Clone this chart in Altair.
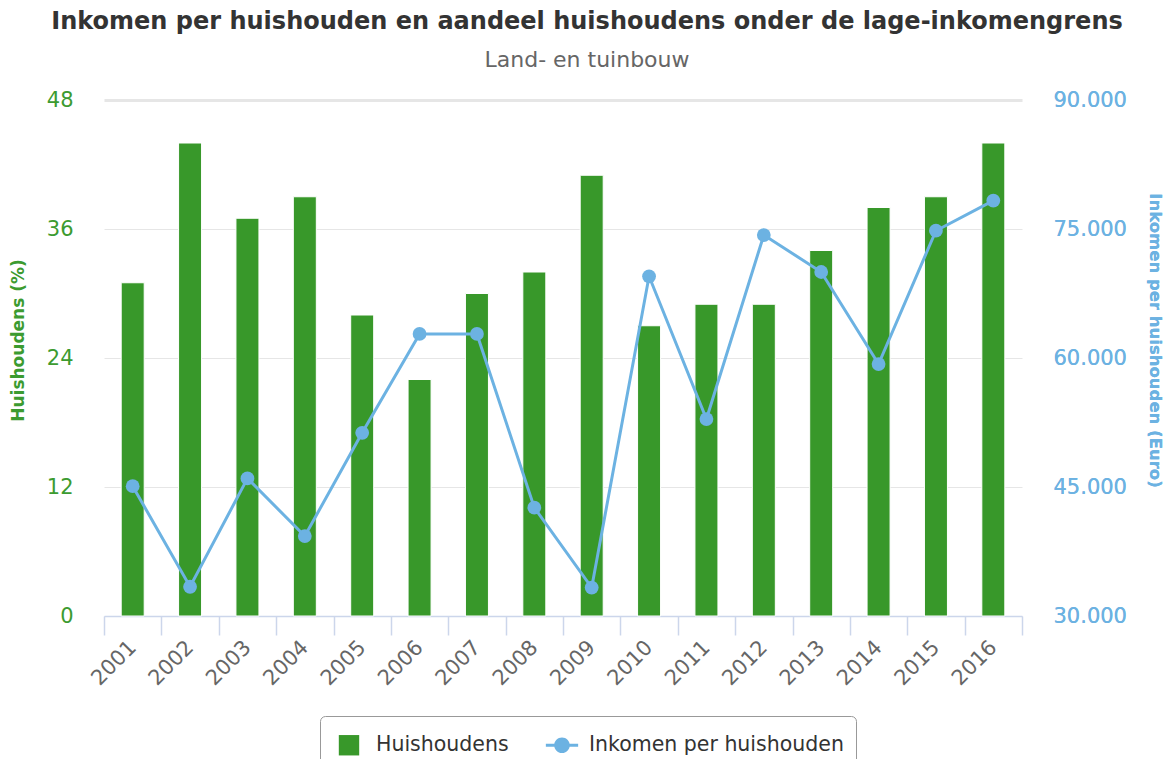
import altair as alt
import pandas as pd

years = ["2001", "2002", "2003", "2004", "2005", "2006", "2007", "2008",
         "2009", "2010", "2011", "2012", "2013", "2014", "2015", "2016"]
huishoudens = [31, 44, 37, 39, 28, 22, 30, 32, 41, 27, 29, 29, 34, 38, 39, 44]
inkomen = [45100, 33400, 46000, 39300, 51300, 62800, 62800, 42600,
           33300, 69500, 52900, 74300, 70000, 59300, 74800, 78300]
series_names = ["Huishoudens", "Inkomen per huishouden"]
left_ticks = [0, 12, 24, 36, 48]
right_ticks = [30000, 45000, 60000, 75000, 90000]

GREEN = "#38982a"
BLUE = "#6cb2e2"
FONT = "DejaVu Sans"

df = pd.DataFrame({"jaar": years, "huishoudens": huishoudens, "inkomen": inkomen})
legend_df = pd.DataFrame({"serie": series_names})

x_enc = alt.X(
    "jaar:N",
    title=None,
    sort=years,
    scale=alt.Scale(paddingInner=0, paddingOuter=0),
    axis=alt.Axis(
        labelAngle=-45, labelAlign="right", labelBaseline="middle",
        labelFontSize=21, labelColor="#666666", labelFont=FONT,
        domainColor="#ccd6eb", domainWidth=1.5, tickColor="#ccd6eb", tickWidth=1.5,
        tickSize=19, tickBand="extent", labelPadding=9, grid=False,
    ),
)

bars = alt.Chart(df).mark_bar(size=23, color=GREEN, stroke="white", strokeWidth=1).encode(
    x=x_enc,
    y=alt.Y(
        "huishoudens:Q",
        scale=alt.Scale(domain=[0, 48], nice=False),
        axis=alt.Axis(
            title="Huishoudens (%)", values=left_ticks, orient="left",
            labelColor="#3c9b30", labelFontSize=21, labelFont=FONT, labelPadding=31,
            titleColor="#3c9b30", titleFontSize=17, titleFont=FONT, titleFontWeight="bold",
            titleX=-86, titleY=240, titleBaseline="middle", titleAngle=-90,
            domain=False, ticks=False, grid=True, gridColor="#e6e6e6",
            gridWidth={"condition": {"test": "datum.value === 48", "value": 3}, "value": 1},
        ),
    ),
)

y_right = alt.Y(
    "inkomen:Q",
    scale=alt.Scale(domain=[30000, 90000], nice=False),
    axis=alt.Axis(
        title="Inkomen per huishouden (Euro)", values=right_ticks, orient="right",
        labelExpr="replace(format(datum.value, ','), ',', '.')",
        labelColor=BLUE, labelFontSize=21, labelFont=FONT, labelPadding=31,
        titleColor=BLUE, titleFontSize=16.5, titleFont=FONT, titleFontWeight="bold",
        titleX=132, titleY=240, titleBaseline="middle", titleAngle=90,
        domain=False, ticks=False, grid=False,
    ),
)

line = alt.Chart(df).mark_line(color=BLUE, strokeWidth=3).encode(x=x_enc, y=y_right)
points = alt.Chart(df).mark_point(filled=True, size=190, color=BLUE, opacity=1).encode(x=x_enc, y=y_right)

square_path = "M-0.6,-0.6H0.6V0.6H-0.6Z"
linecircle_path = "M-0.95,-0.09H0.95V0.09H-0.95Z M-0.46,0A0.46,0.46 0 1,1 0.46,0A0.46,0.46 0 1,1 -0.46,0Z"

legend_layer = alt.Chart(legend_df).mark_point(filled=True, opacity=1, clip=True).encode(
    x=alt.value(-2000),
    y=alt.value(-2000),
    color=alt.Color(
        "serie:N",
        scale=alt.Scale(domain=series_names, range=[GREEN, BLUE]),
        legend=alt.Legend(title=None),
    ),
    shape=alt.Shape(
        "serie:N",
        scale=alt.Scale(domain=series_names, range=[square_path, linecircle_path]),
        legend=alt.Legend(title=None),
    ),
)

chart = (
    alt.layer(bars, line, points, legend_layer)
    .resolve_scale(y="independent")
    .properties(
        width=918,
        height=516,
        autosize=alt.AutoSizeParams(type="none"),
        padding={"left": 96, "top": 92, "right": 143, "bottom": 143},
        title=alt.TitleParams(
            text="Inkomen per huishouden en aandeel huishoudens onder de lage-inkomengrens",
            subtitle="Land- en tuinbouw",
            anchor="middle", frame="group", dx=24, offset=18,
            font=FONT, fontSize=24, fontWeight="bold", color="#333333",
            subtitleFont=FONT, subtitleFontSize=22, subtitleColor="#666666",
            subtitlePadding=16,
        ),
    )
    .configure_view(stroke=None)
    .configure_legend(
        orient="none", legendX=216, legendY=616, direction="horizontal",
        padding=12, strokeColor="#999999", cornerRadius=5, fillColor="white",
        symbolSize=1156, symbolStrokeWidth=0, labelFontSize=20.5, labelFont=FONT,
        labelColor="#333333", labelOffset=10, columnPadding=36, labelLimit=0,
    )
)

chart.save("out.html", embed_options={"renderer": "svg", "actions": False})
